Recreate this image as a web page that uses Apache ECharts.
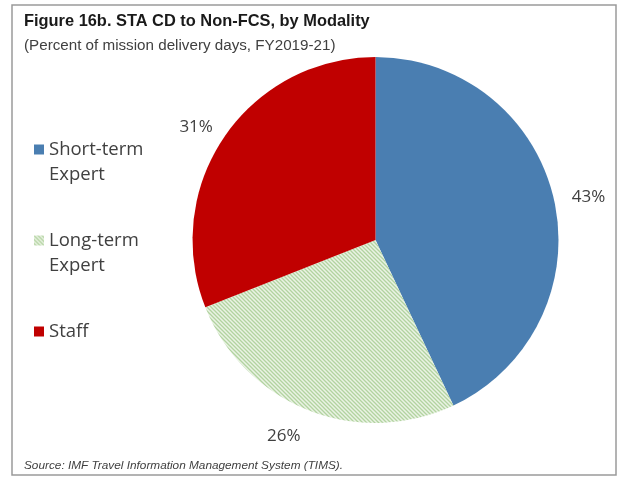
<!DOCTYPE html>
<html>
<head>
<meta charset="utf-8">
<script src="https://cdn.jsdelivr.net/npm/echarts@6/dist/echarts.min.js"></script>
<style>
  html, body { margin: 0; padding: 0; background: #fff; }
  #chart { width: 618px; height: 477px; }
</style>
</head>
<body>
<div id="chart"></div>
<script>
// Share of mission delivery days by modality
const modalities = ['Short-term Expert', 'Long-term Expert', 'Staff'];
const shares = [43, 26, 31];
const sliceColors = ['#4a7eb1', null, '#c00000'];

const titleText = 'Figure 16b. STA CD to Non-FCS, by Modality';
const subtitleText = '(Percent of mission delivery days, FY2019-21)';
const sourceText = 'Source: IMF Travel Information Management System (TIMS).';

// Fine diagonal hatch for the long-term expert slice
function hatchPattern() {
  const c = document.createElement('canvas');
  c.width = 4; c.height = 4;
  const g = c.getContext('2d');
  g.fillStyle = '#eaf3e4';
  g.fillRect(0, 0, 4, 4);
  g.strokeStyle = '#b2d3a0';
  g.lineWidth = 1.3;
  g.beginPath();
  g.moveTo(0, 0); g.lineTo(4, 4);
  g.moveTo(-2, 2); g.lineTo(2, 6);
  g.moveTo(2, -2); g.lineTo(6, 2);
  g.stroke();
  return { image: c, repeat: 'repeat' };
}
const hatch = hatchPattern();

// Small label nudges per slice (px)
const labelNudge = [{ dx: 5, dy: -1 }, { dx: -1, dy: 17 }, { dx: 0, dy: -4 }];

const chart = echarts.init(document.getElementById('chart'), null, { renderer: 'canvas' });

const pieData = modalities.map((name, i) => ({
  name: name,
  value: shares[i],
  itemStyle: { color: sliceColors[i] || hatch }
}));

chart.setOption({
  animation: false,
  backgroundColor: '#fff',
  title: [
    { text: titleText, left: 19, top: 8,
      textStyle: { fontFamily: 'Liberation Sans', fontWeight: 'bold', fontSize: 16.4, color: '#1a1a1a' } },
    { text: subtitleText, left: 19, top: 33,
      textStyle: { fontFamily: 'Liberation Sans', fontWeight: 'normal', fontSize: 15.2, color: '#404040' } },
    { text: sourceText, left: 19, top: 455,
      textStyle: { fontFamily: 'Liberation Sans', fontWeight: 'normal', fontStyle: 'italic', fontSize: 11.8, color: '#404040' } }
  ],
  legend: {
    orient: 'vertical',
    left: 29, top: 107,
    itemWidth: 10, itemHeight: 10,
    itemGap: 16,
    icon: 'rect',
    selectedMode: false,
    formatter: function (name) {
      const parts = name.split(' ');
      return parts.length > 1 ? '\n' + parts.join('\n') : '\n' + name + '\n ';
    },
    textStyle: { fontFamily: 'Open Sans', fontSize: 18.5, color: '#404040', lineHeight: 25 }
  },
  series: [{
    type: 'pie',
    center: [375.5, 240],
    radius: 183,
    startAngle: 90,
    clockwise: true,
    data: pieData,
    label: {
      show: true,
      position: 'outside',
      formatter: '{c}%',
      fontFamily: 'Open Sans', fontSize: 17, color: '#404040',
      distanceToLabelLine: 3
    },
    labelLine: { show: false, length: 10, length2: 0 },
    labelLayout: function (params) {
      return labelNudge[params.dataIndex];
    },
    itemStyle: { borderWidth: 0 },
    emphasis: { disabled: true }
  }],
  graphic: [{
    type: 'rect',
    shape: { x: 12, y: 5, width: 604, height: 470 },
    style: { fill: null, stroke: '#9a9a9a', lineWidth: 1.5 },
    silent: true
  }]
});
</script>
</body>
</html>
